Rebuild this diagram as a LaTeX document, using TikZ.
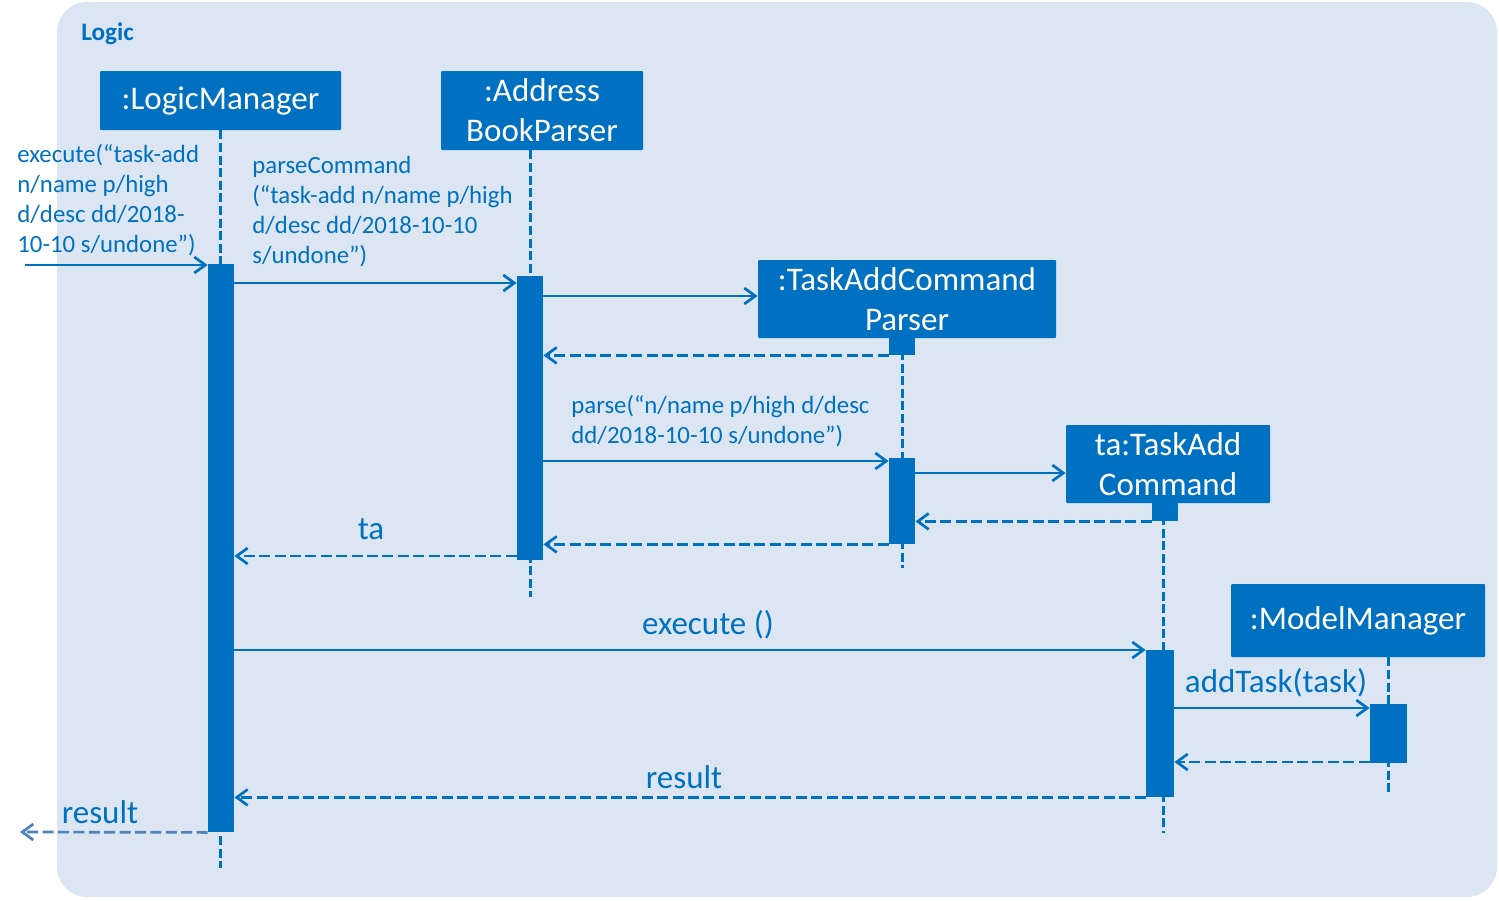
\documentclass[tikz,border=0pt]{standalone}
\usepackage{fontspec}
\setmainfont{Carlito}
\usetikzlibrary{arrows.meta}
\definecolor{umlblue}{HTML}{0070C0}
\definecolor{bgblue}{HTML}{DCE6F2}
\definecolor{outblue}{HTML}{4F81BD}
\begin{document}
\begin{tikzpicture}[x=0.5pt,y=-0.5pt,
  obj/.style={fill=umlblue, draw=none, text=white, font=\fontsize{16.5}{20}\selectfont, align=center, inner sep=0, rounded corners=0.5pt},
  act/.style={fill=umlblue, draw=none, inner sep=0},
  life/.style={draw=umlblue, line width=1.5pt, dash pattern=on 4.5pt off 1.8pt},
  msg/.style={draw=umlblue, line width=1.35pt, -{Straight Barb[length=5.5pt,width=8pt,line width=1.35pt]}},
  ret/.style={msg, dash pattern=on 5.5pt off 2.2pt},
  lbl/.style={text=umlblue, font=\fontsize{12.4}{15}\selectfont, inner sep=0, align=left, anchor=base west},
  blbl/.style={text=umlblue, font=\fontsize{16.5}{18}\selectfont, inner sep=0, anchor=base},
]
\useasboundingbox (0,0) rectangle (1499,900);
\fill[bgblue, rounded corners=15pt] (57,2) rectangle (1497,897);
\node[text=umlblue, font=\fontsize{12.6}{14}\selectfont\bfseries, inner sep=0, anchor=base west] (title) at (81,40) {Logic};

% objects
\node[obj, minimum width=120.5pt, minimum height=29.5pt] (lm) at (220.5,100.5) {:LogicManager};
\node[obj, minimum width=101pt, minimum height=39.5pt] (abp) at (542,110.5) {:Address\\BookParser};
\node[obj, minimum width=149pt, minimum height=39pt] (tacp) at (907,299) {:TaskAddCommand\\Parser};
\node[obj, minimum width=102pt, minimum height=39pt] (tac) at (1168,464) {ta:TaskAdd\\Command};
\node[obj, minimum width=127pt, minimum height=36.5pt] (mm) at (1358,620.5) {:ModelManager};

% lifeline ends
\coordinate (lmend) at (220,868);
\coordinate (abpend) at (530,597);
\coordinate (tacpend) at (902,568);
\coordinate (tacend) at (1163,833);
\coordinate (mmend) at (1388,793);

\draw[life] (lmend |- lm.south) -- (lmend);
\draw[life] (abpend |- abp.south) -- (abpend);
\draw[life] (tacpend |- tacp.south) -- (tacpend);
\draw[life] (tacend |- tac.south) -- (tacend);
\draw[life] (mmend |- mm.south) -- (mmend);

% activations
\node[act, minimum width=13pt, minimum height=284pt] (lma) at (221,548) {};
\node[act, minimum width=13pt, minimum height=142pt] (abpa) at (530,418) {};
\node[act, minimum width=13pt, minimum height=8.5pt] (tacpb) at (902,346.5) {};
\node[act, minimum width=13pt, minimum height=43pt] (tacpa) at (902,501) {};
\node[act, minimum width=13pt, minimum height=9pt] (tacb) at (1165,512) {};
\node[act, minimum width=14pt, minimum height=73.5pt] (taca) at (1160,723.5) {};
\node[act, minimum width=18.5pt, minimum height=29.5pt] (mma) at (1388.5,733.5) {};

% messages
\coordinate (in) at (25,265);
\coordinate (out) at (20,832);
\draw[msg] (in) -- (lma.west |- in);
\node[lbl] (l1) at (17,252) {execute(“task-add\\n/name p/high\\d/desc dd/2018-\\10-10 s/undone”)};

\draw[msg] (lma.east |- 0,283) -- (abpa.west |- 0,283);
\node[lbl] (l2) at (252,263) {parseCommand\\(“task-add n/name p/high\\d/desc dd/2018-10-10\\s/undone”)};

\draw[msg] (abpa.east |- 0,296) -- (tacp.west |- 0,296);
\draw[ret] (tacpb.south west) -- (abpa.east |- tacpb.south);

\draw[msg] (abpa.east |- 0,461) -- (tacpa.west |- 0,461);
\node[lbl] (l3) at (571,443) {parse(“n/name p/high d/desc\\dd/2018-10-10 s/undone”)};

\draw[msg] (tacpa.east |- 0,473) -- (tac.west |- 0,473);
\draw[ret] (tacb.south west) -- (tacpa.east |- tacb.south);
\draw[ret] (tacpa.south west) -- (abpa.east |- tacpa.south);

\draw[ret] (abpa.west |- 0,556) -- (lma.east |- 0,556);
\node[blbl] (l4) at (371,539) {ta};

\draw[msg] (lma.east |- 0,650) -- (taca.west |- 0,650);
\node[blbl] (l5) at (708,634) {execute ()};

\draw[msg] (taca.east |- 0,708) -- (mma.west |- 0,708);
\node[blbl] (l6) at (1276,692) {addTask(task)};

\draw[ret] (mma.west |- 0,762) -- (taca.east |- 0,762);

\draw[ret] (taca.south west) -- (lma.east |- taca.south);
\node[blbl] (l7) at (684,788) {result};

\draw[ret, draw=outblue] (lma.south west) -- (out);
\node[blbl] (l8) at (100,823) {result};
\end{tikzpicture}
\end{document}
